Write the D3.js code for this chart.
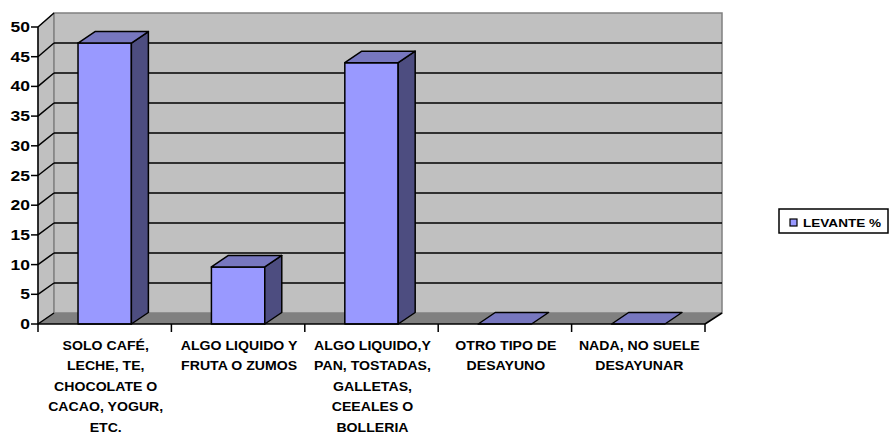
<!DOCTYPE html>
<html>
<head>
<meta charset="utf-8">
<script src="https://cdn.jsdelivr.net/npm/d3@7"></script>
<style>
  body { margin: 0; background: #fff; }
  text { font-family: "Liberation Sans", Arial, sans-serif; font-weight: bold; fill: #000; }
</style>
</head>
<body>
<div id="chart"></div>
<script>
// data
const categories = [
    "SOLO CAFÉ, LECHE, TE, CHOCOLATE O CACAO, YOGUR, ETC.",
    "ALGO LIQUIDO Y FRUTA O ZUMOS",
    "ALGO LIQUIDO,Y PAN, TOSTADAS, GALLETAS, CEEALES O BOLLERIA",
    "OTRO TIPO DE DESAYUNO",
    "NADA, NO SUELE DESAYUNAR"
];
const labelLines = [
    ["SOLO CAFÉ,", "LECHE, TE,", "CHOCOLATE O", "CACAO, YOGUR,", "ETC."],
    ["ALGO LIQUIDO Y", "FRUTA O ZUMOS"],
    ["ALGO LIQUIDO,Y", "PAN, TOSTADAS,", "GALLETAS,", "CEEALES O", "BOLLERIA"],
    ["OTRO TIPO DE", "DESAYUNO"],
    ["NADA, NO SUELE", "DESAYUNAR"]
];
const levante = [47.3, 9.6, 44.0, 0, 0];
const seriesName = "LEVANTE %";
const yTicks = [0, 5, 10, 15, 20, 25, 30, 35, 40, 45, 50];

const WIDTH = 890, HEIGHT = 433;
const DX = 17, DY = -11.5;   // depth of the 3d box

const svg = d3.select("#chart").append("svg")
    .attr("width", WIDTH)
    .attr("height", HEIGHT);

const yFront = d3.scaleLinear().domain([0, 50]).range([324, 27]);
const yBack = d3.scaleLinear().domain([0, 50]).range([313, 13]);
const xCat = d3.scaleBand().domain(categories).range([38, 705]).padding(0);
const xBar = d3.scaleBand().domain(categories).range([38, 705])
    .paddingInner(0.6).paddingOuter(0.3);

const backL = 54, backR = 722;
const line = d3.line();

// walls and floor
svg.append("path")
    .attr("d", line([[38, yFront(0)], [38, yFront(50)], [backL, yBack(50)], [backL, yBack(0)]]) + "Z")
    .attr("fill", "#c0c0c0").attr("stroke", "#808080").attr("stroke-width", 1);
svg.append("rect")
    .attr("x", backL).attr("y", yBack(50))
    .attr("width", backR - backL).attr("height", yBack(0) - yBack(50))
    .attr("fill", "#c0c0c0").attr("stroke", "#808080").attr("stroke-width", 1.5);
svg.append("path")
    .attr("d", line([[38, yFront(0)], [705, yFront(0)], [backR, yBack(0)], [backL, yBack(0)]]) + "Z")
    .attr("fill", "#808080").attr("stroke", "none");

// gridlines
const grid = svg.append("g").attr("stroke", "#000").attr("stroke-width", 1.5);
grid.selectAll("line.back")
    .data(yTicks.filter(d => d > 0 && d < 50))
    .join("line").attr("class", "back")
    .attr("x1", backL).attr("x2", backR)
    .attr("y1", d => yBack(d)).attr("y2", d => yBack(d));
grid.selectAll("line.side")
    .data(yTicks)
    .join("line").attr("class", "side")
    .attr("x1", 38).attr("x2", backL)
    .attr("y1", d => yFront(d)).attr("y2", d => yBack(d));
grid.append("line")
    .attr("x1", 705).attr("x2", backR)
    .attr("y1", yFront(0)).attr("y2", yBack(0));

// bars
const bars = svg.append("g").attr("stroke", "#000").attr("stroke-width", 1.5)
    .attr("stroke-linejoin", "round");
categories.forEach((c, i) => {
    const x0 = xBar(c), x1 = x0 + xBar.bandwidth();
    const yt = yFront(levante[i]), yb = yFront(0);
    if (levante[i] > 0) {
        bars.append("rect")
            .attr("x", x0).attr("y", yt)
            .attr("width", x1 - x0).attr("height", yb - yt)
            .attr("fill", "#9999ff");
        bars.append("path")
            .attr("d", line([[x1, yt], [x1 + DX, yt + DY], [x1 + DX, yb + DY], [x1, yb]]) + "Z")
            .attr("fill", "#4d4d80");
    }
    bars.append("path")
        .attr("d", line([[x0, yt], [x1, yt], [x1 + DX, yt + DY], [x0 + DX, yt + DY]]) + "Z")
        .attr("fill", "#7777bf");
});

// axes
const axes = svg.append("g").attr("stroke", "#000").attr("stroke-width", 1.5);
axes.append("line").attr("x1", 38).attr("x2", 38)
    .attr("y1", yFront(0)).attr("y2", yFront(50));
axes.append("line").attr("x1", 38).attr("x2", 705)
    .attr("y1", yFront(0)).attr("y2", yFront(0));
axes.selectAll("line.ytick").data(yTicks).join("line").attr("class", "ytick")
    .attr("x1", 31).attr("x2", 38)
    .attr("y1", d => yFront(d)).attr("y2", d => yFront(d));
const xTickPos = categories.map(c => xCat(c)).concat([705]);
axes.selectAll("line.xtick").data(xTickPos).join("line").attr("class", "xtick")
    .attr("x1", d => d).attr("x2", d => d)
    .attr("y1", yFront(0)).attr("y2", yFront(0) + 8);

// y labels
svg.append("g").selectAll("text").data(yTicks).join("text")
    .attr("transform", d => `translate(30,${yFront(d) + 5}) scale(1.25,1)`)
    .attr("text-anchor", "end")
    .style("font-size", "14px")
    .text(d => d);

// x labels
categories.forEach((c, i) => {
    const cx = xCat(c) + xCat.bandwidth() / 2 + 1;
    svg.append("g").selectAll("text").data(labelLines[i]).join("text")
        .attr("transform", (d, j) => `translate(${cx},${350 + j * 20.4}) scale(1.13,1)`)
        .attr("text-anchor", "middle")
        .style("font-size", "12.5px")
        .text(d => d);
});

// legend
const legend = svg.append("g");
legend.append("rect")
    .attr("x", 779).attr("y", 209).attr("width", 109).attr("height", 24)
    .attr("fill", "#fff").attr("stroke", "#000").attr("stroke-width", 1.5);
legend.append("rect")
    .attr("x", 790).attr("y", 219).attr("width", 7).attr("height", 7)
    .attr("fill", "#9999ff").attr("stroke", "#000").attr("stroke-width", 1.2);
legend.append("text")
    .attr("transform", "translate(803,226.5) scale(1.18,1)")
    .style("font-size", "11.5px")
    .text(seriesName);
</script>
</body>
</html>
